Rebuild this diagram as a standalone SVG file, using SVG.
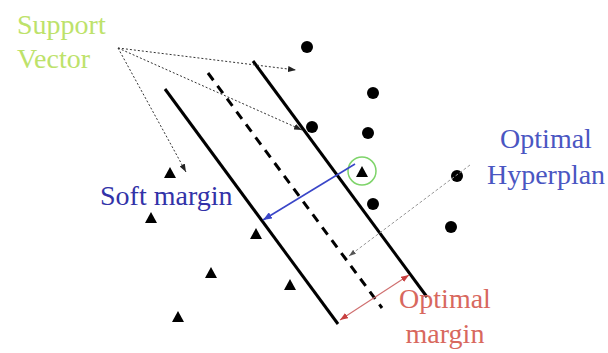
<svg xmlns="http://www.w3.org/2000/svg" width="608" height="353" viewBox="0 0 608 353">
<style>
.t{font-family:"Liberation Serif","Times New Roman",serif;font-size:28px}
.sv{fill:#bde26a}
.blue{fill:#3232a8}
.blue2{fill:#4a56c2}
.red{fill:#d8685e}
.solid{stroke:#000;stroke-width:3;fill:none}
.dash{stroke:#000;stroke-width:3;fill:none;stroke-dasharray:9 7}
.dot{stroke:#333;stroke-width:1;fill:none;stroke-dasharray:2 2}
.pt{fill:#000}
</style>
<defs>
<marker id="ak" markerUnits="userSpaceOnUse" markerWidth="8" markerHeight="6" refX="8" refY="3" orient="auto"><path d="M0,0 L8,3 L0,6 z" fill="#222"/></marker>
<marker id="ab" markerUnits="userSpaceOnUse" markerWidth="9" markerHeight="7" refX="9" refY="3.5" orient="auto"><path d="M0,0 L9,3.5 L0,7 z" fill="#3a46c8"/></marker>
<marker id="ag" markerUnits="userSpaceOnUse" markerWidth="7" markerHeight="5" refX="7" refY="2.5" orient="auto"><path d="M0,0 L7,2.5 L0,5 z" fill="#555"/></marker>
<marker id="ar" markerUnits="userSpaceOnUse" markerWidth="8" markerHeight="6" refX="8" refY="3" orient="auto-start-reverse"><path d="M0,0 L8,3 L0,6 z" fill="#c84040"/></marker>
</defs>
<rect width="608" height="353" fill="#fff"/>
<g id="lines">
<line id="margin-left" class="solid" x1="165" y1="89" x2="338" y2="324"/>
<line id="margin-right" class="solid" x1="253" y1="61" x2="427" y2="297"/>
<line id="hyperplane" class="dash" x1="208" y1="73" x2="382" y2="308"/>
</g>
<g id="points">
<circle class="pt" cx="307" cy="47" r="6"/>
<circle class="pt" cx="373" cy="93" r="6"/>
<circle class="pt" cx="312" cy="127" r="6"/>
<circle class="pt" cx="368" cy="133" r="6"/>
<circle class="pt" cx="457" cy="176" r="6"/>
<circle class="pt" cx="373" cy="204" r="6"/>
<circle class="pt" cx="451" cy="227" r="6"/>
<polygon class="pt" points="170,167 164,178 176,178"/>
<polygon class="pt" points="151,212 145,223 157,223"/>
<polygon class="pt" points="256,228 250,239 262,239"/>
<polygon class="pt" points="211,267 205,278 217,278"/>
<polygon class="pt" points="290,279 284,290 296,290"/>
<polygon class="pt" points="178,311 172,322 184,322"/>
<polygon class="pt" points="362,166 356,177 368,177"/>
</g>
<g id="support-circle">
<circle cx="362" cy="171" r="14" fill="none" stroke="#7ed46a" stroke-width="1.5"/>
</g>
<g id="connectors">
<line class="dot" x1="118" y1="48" x2="296" y2="70" marker-end="url(#ak)"/>
<line class="dot" x1="118" y1="48" x2="302" y2="130" marker-end="url(#ak)"/>
<line class="dot" x1="118" y1="48" x2="186" y2="172" marker-end="url(#ak)"/>
<line x1="355" y1="164" x2="263" y2="220" stroke="#3a46c8" stroke-width="1.6" marker-end="url(#ab)"/>
<line x1="470" y1="165" x2="349" y2="256" stroke="#999" stroke-width="1" stroke-dasharray="3 2" marker-end="url(#ag)"/>
<line x1="340" y1="320" x2="409" y2="275" stroke="#d07070" stroke-width="1.2" marker-start="url(#ar)" marker-end="url(#ar)"/>
</g>
<g id="label-support-vector">
<text class="t sv" x="17" y="34">Support</text>
<text class="t sv" x="17" y="68">Vector</text>
</g>
<g id="label-soft-margin">
<text class="t blue" x="100" y="205">Soft margin</text>
</g>
<g id="label-hyperplane">
<text class="t blue2" x="546" y="148" text-anchor="middle">Optimal</text>
<text class="t blue2" x="546" y="184" text-anchor="middle">Hyperplan</text>
</g>
<g id="label-optimal-margin">
<text class="t red" x="445" y="308" text-anchor="middle">Optimal</text>
<text class="t red" x="445" y="343" text-anchor="middle">margin</text>
</g>
</svg>
